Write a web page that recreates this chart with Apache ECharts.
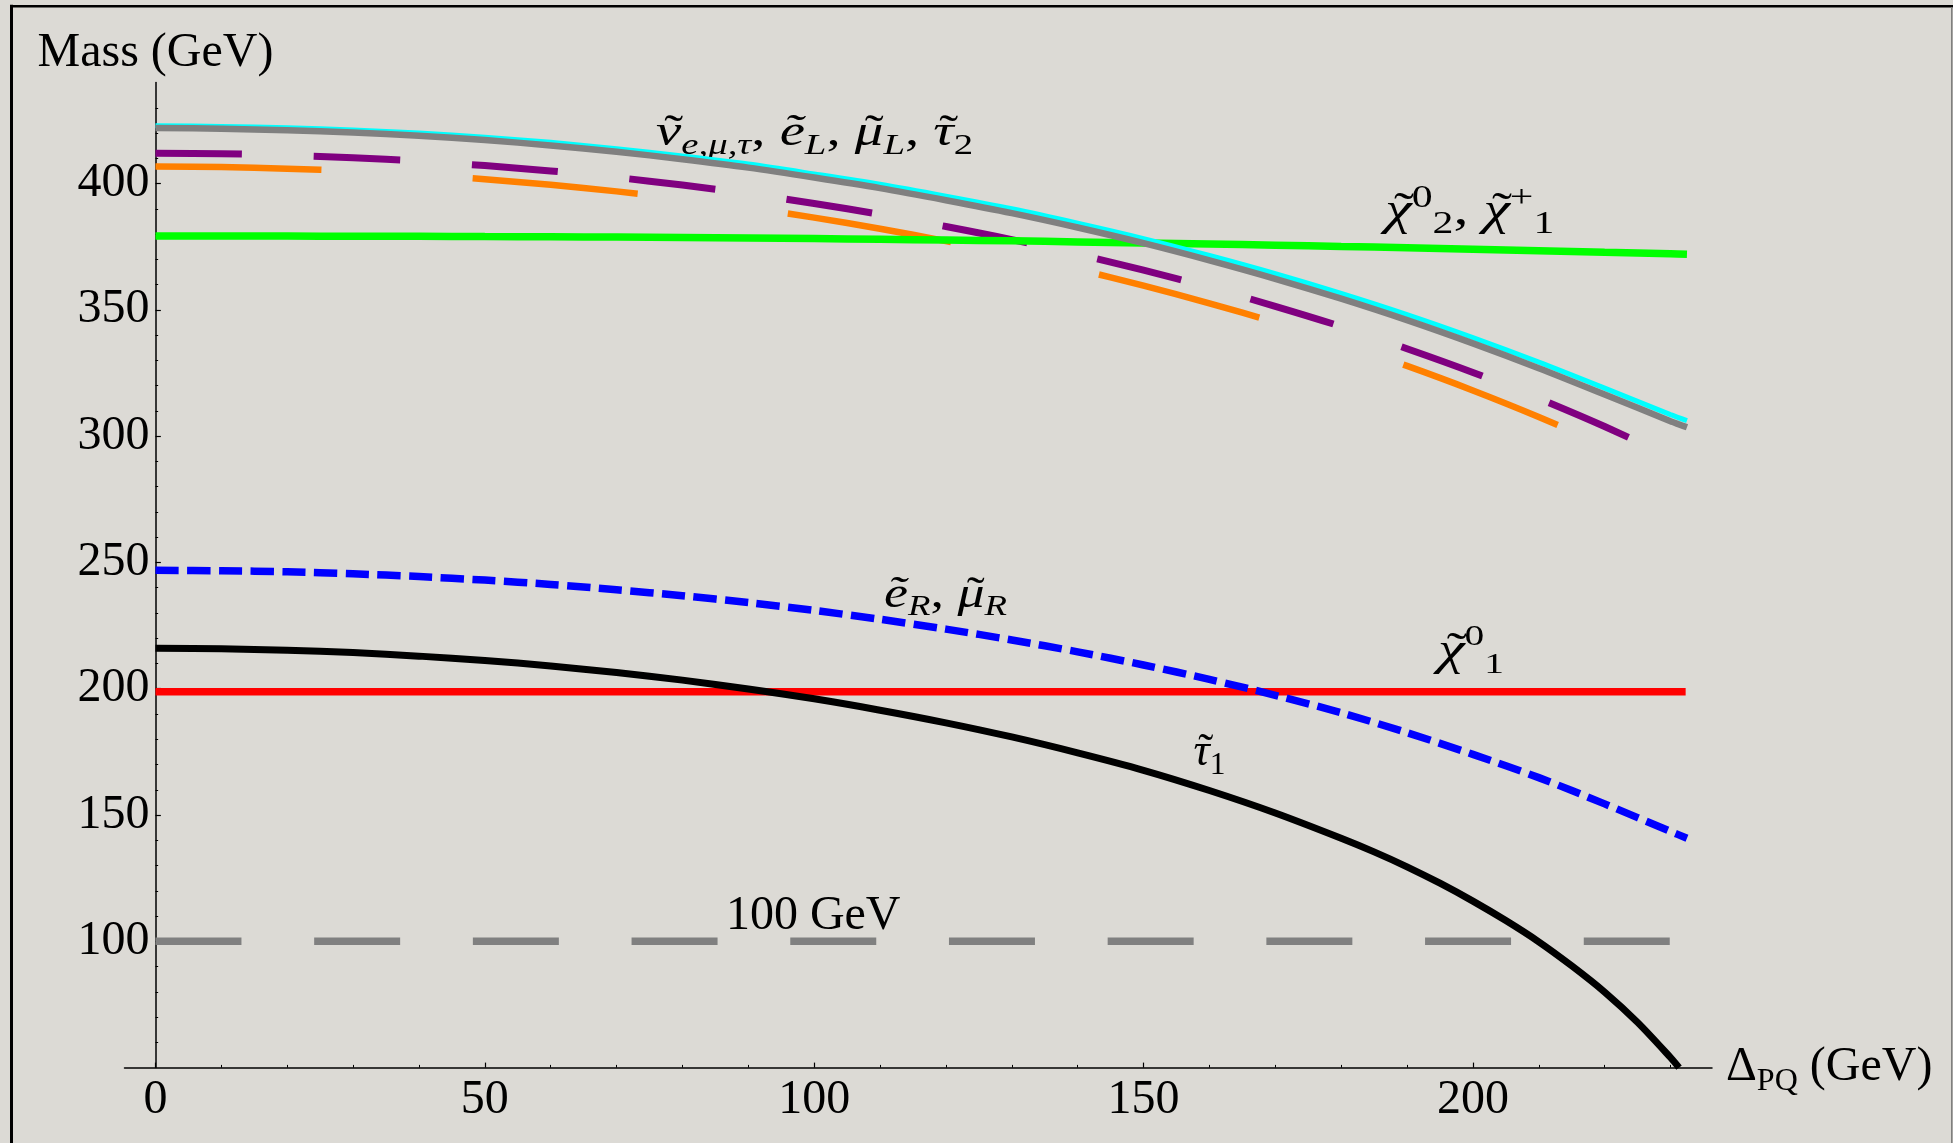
<!DOCTYPE html>
<html>
<head>
<meta charset="utf-8">
<style>
html,body{margin:0;padding:0;background:#dcdad5;}
#chart{width:1953px;height:1143px;}
</style>
<script src="https://cdn.jsdelivr.net/npm/echarts@6/dist/echarts.min.js"></script>
</head>
<body>
<div id="chart"></div>
<script>
// ---------------- data ----------------
const xTickValues = [0, 50, 100, 150, 200];
const xMinorTickValues = [10,20,30,40,60,70,80,90,110,120,130,140,160,170,180,190,210,220,230];
const yTickValues = [100, 150, 200, 250, 300, 350, 400];
const yMinorTickValues = [60,70,80,90,110,120,130,140,160,170,180,190,210,220,230,240,260,270,280,290,310,320,330,340,360,370,380,390,410,420,430];

const deltaPQ = [0,10,20,30,40,50,60,70,80,90,100,110,120,130,140,150,160,170,180,190,200,210,220,230,232.5];
const mSlepL  = [422.0,421.7,421.1,420.2,418.9,417.2,415.1,412.6,409.6,406.3,402.4,398.2,393.4,388.3,382.6,376.4,369.6,362.3,354.4,345.9,336.7,326.9,316.5,305.9,303.5];
const mSnu    = [422.9,422.6,422.1,421.2,420.0,418.3,416.3,413.8,410.9,407.7,403.8,399.7,395.0,390.0,384.3,378.2,371.5,364.3,356.5,348.1,339.0,329.3,319.0,308.5,306.1];
const mPurple = [412.0,411.8,411.2,410.2,408.9,407.1,405.0,402.4,399.4,396.0,392.1,387.8,383.0,377.8,372.0,365.7,358.9,351.4,343.4,334.6,325.2,314.9,303.8,291.7,288.5];
const mOrange = [406.7,406.5,405.9,404.9,403.5,401.7,399.5,396.9,393.9,390.4,386.5,382.1,377.2,371.9,366.0,359.6,352.6,345.0,336.8,327.8,318.1,307.6,296.2,283.7,280.4];
const mChi2   = [379.2,379.2,379.2,379.1,379.1,379.0,378.9,378.8,378.6,378.4,378.2,377.9,377.6,377.3,376.9,376.5,376.1,375.6,375.1,374.6,374.0,373.4,372.8,372.2,372.0];
const mSlepR  = [246.9,246.7,246.3,245.5,244.4,243.0,241.3,239.2,236.8,234.1,231.0,227.5,223.6,219.3,214.6,209.4,203.7,197.4,190.5,182.6,174.0,164.8,154.4,143.5,140.8];

const deltaStau = [0,10,20,30,40,50,60,70,80,90,100,110,120,130,140,150,160,170,180,185,190,195,200,205,210,215,220,225,230,231.3];
const mStau1    = [216.0,215.8,215.2,214.3,212.9,211.2,209.0,206.4,203.4,199.9,196.0,191.5,186.5,180.9,174.6,167.7,159.7,150.8,140.8,135.4,129.5,123.0,115.9,108.2,99.8,90.3,79.9,67.9,54.0,50.0];

const deltaChi1 = [0, 232.3];
const mChi1     = [198.8, 198.8];
const deltaRef  = [0, 232.5];
const mRef      = [100, 100];

// curve labels: baseline anchored in data coordinates; tokens: m=italic, u=upright, sb/sbu=subscript, sp=superscript
const curveLabels = [
  {x:76.0,  y:414.0, main:44, sub:30, drop:9, rise:14, width:317, tokens:[
    {t:'ν', s:'m', tilde:true}, {t:'e,μ,τ', s:'sb'}, {t:', ', s:'u'}, {t:'ẽ', s:'m'}, {t:'L', s:'sb'},
    {t:', ', s:'u'}, {t:'μ', s:'m', tilde:true}, {t:'L', s:'sb'}, {t:', ', s:'u'}, {t:'τ', s:'m', tilde:true}, {t:'2', s:'sbu'}]},
  {x:186.7, y:382.8, main:46, sub:32, drop:11, rise:15, width:169, tokens:[
    {t:'χ', s:'m', tilde:true}, {t:'0', s:'sp'}, {t:'2', s:'sbu'}, {t:', ', s:'u'},
    {t:'χ', s:'m', tilde:true}, {t:'+', s:'sp'}, {t:'1', s:'sbu'}]},
  {x:110.6, y:231.2, main:44, sub:30, drop:4, rise:14, width:123, tokens:[
    {t:'ẽ', s:'m'}, {t:'R', s:'sb'}, {t:', ', s:'u'}, {t:'μ', s:'m', tilde:true}, {t:'R', s:'sb'}]},
  {x:194.7, y:208.6, main:46, sub:30, drop:10, rise:18, width:66, tokens:[
    {t:'χ', s:'m', tilde:true}, {t:'0', s:'sp'}, {t:'1', s:'sbu'}]},
  {x:157.6, y:168.6, main:46, sub:32, drop:9, rise:14, width:32, tokens:[
    {t:'τ', s:'m', tilde:true}, {t:'1', s:'sbu'}]},
  {x:86.6,  y:103.3, main:48, sub:32, drop:9, rise:14, width:0, tokens:[
    {t:'100 GeV', s:'u'}]}
];

// ---------------- chart ----------------
const FONT = '"Liberation Serif","Times New Roman",Times,serif';
function pairs(xs, ys){ return xs.map((x,i)=>[x, ys[i]]); }

const chart = echarts.init(document.getElementById('chart'), null, {renderer:'canvas'});

function lineSeries(xs, ys, color, width, type, extra){
  return Object.assign({
    type:'line', xAxisIndex:0, yAxisIndex:0,
    data: pairs(xs, ys), showSymbol:false, symbol:'none', smooth:0.3,
    silent:true, animation:false,
    lineStyle:{color:color, width:width, type:type || 'solid', cap:'butt'}
  }, extra || {});
}

const gridBox = {left:124.5, right:241, top:82.5, bottom:75.4, containLabel:false, outerBoundsMode:'none'};

const option = {
  backgroundColor:'#dcdad5',
  animation:false,
  grid:[Object.assign({}, gridBox), Object.assign({}, gridBox)],
  xAxis:[{
    type:'value', gridIndex:0, min:-4.7, max:236.3,
    axisLine:{show:true, onZero:false, lineStyle:{color:'#000', width:1.5}},
    axisTick:{show:true, inside:true, length:5, customValues:xTickValues, lineStyle:{color:'#000', width:1.2}},
    axisLabel:{show:true, customValues:xTickValues, margin:9, color:'#000', fontSize:48, fontFamily:FONT},
    splitLine:{show:false},
    name:'{d|Δ}{s|PQ}{d| (GeV)}', nameLocation:'end', nameGap:14,
    nameTextStyle:{color:'#000', fontFamily:FONT, fontSize:48,
      rich:{d:{fontSize:48, fontFamily:FONT, color:'#000', lineHeight:60, verticalAlign:'middle'},
            s:{fontSize:32, fontFamily:FONT, color:'#000', lineHeight:36, verticalAlign:'bottom'}}}
  },{
    type:'value', gridIndex:1, min:-4.7, max:236.3,
    axisLine:{show:false, onZero:false},
    axisTick:{show:true, inside:true, length:2.7, customValues:xMinorTickValues, lineStyle:{color:'#000', width:1}},
    axisLabel:{show:false}, splitLine:{show:false}
  }],
  yAxis:[{
    type:'value', gridIndex:0, min:50, max:440,
    axisLine:{show:true, onZero:true, lineStyle:{color:'#000', width:1.5}},
    axisTick:{show:true, inside:true, length:5.4, customValues:yTickValues, lineStyle:{color:'#000', width:1.2}},
    axisLabel:{show:true, customValues:yTickValues, margin:-25, color:'#000', fontSize:48, fontFamily:FONT},
    splitLine:{show:false},
    name:'Mass (GeV)', nameLocation:'end', nameGap:5,
    nameTextStyle:{color:'#000', fontFamily:FONT, fontSize:48, align:'center'}
  },{
    type:'value', gridIndex:1, min:50, max:440,
    axisLine:{show:false, onZero:true},
    axisTick:{show:true, inside:true, length:2.7, customValues:yMinorTickValues, lineStyle:{color:'#000', width:1}},
    axisLabel:{show:false}, splitLine:{show:false}
  }],
  series:[
    lineSeries(deltaChi1, mChi1, '#ff0000', 7.5, 'solid', {smooth:false}),
    lineSeries(deltaRef, mRef, '#808080', 7.5, [86, 72.7], {smooth:false}),
    lineSeries(deltaStau, mStau1, '#000000', 7, 'solid'),
    lineSeries(deltaPQ, mSlepR, '#0000ff', 7.5, [23.3, 8.4]),
    lineSeries(deltaPQ, mOrange, '#ff8000', 6.5, [166, 151.3]),
    lineSeries(deltaPQ, mPurple, '#800080', 7, [86.5, 71.8]),
    lineSeries(deltaPQ, mChi2, '#00ff00', 7.5, 'solid'),
    lineSeries(deltaPQ, mSnu, '#00ffff', 5, 'solid'),
    lineSeries(deltaPQ, mSlepL, '#808080', 6.5, 'solid')
  ]
};
chart.setOption(option);

// ---------------- curve labels ----------------
const mctx = document.createElement('canvas').getContext('2d');
const MID = 0.3375; // alphabetic baseline below the 'middle' line, in em

function buildLabel(l){
  const M = l.main, S = l.sub, LH = Math.round(M * 1.25);
  const Ls = 2 * (LH / 2 - MID * (M - S) - l.drop);
  const Lp = 2 * (LH / 2 + MID * (M - S) - l.rise);
  const styles = {
    m:  {fontSize:M, fontStyle:'italic', lineHeight:LH, verticalAlign:'middle'},
    u:  {fontSize:M, fontStyle:'normal', lineHeight:LH, verticalAlign:'middle'},
    sb: {fontSize:S, fontStyle:'italic', lineHeight:Ls, verticalAlign:'bottom'},
    sbu:{fontSize:S, fontStyle:'normal', lineHeight:Ls, verticalAlign:'bottom'},
    sp: {fontSize:S, fontStyle:'normal', lineHeight:Lp, verticalAlign:'top'}
  };
  const rich = {};
  Object.keys(styles).forEach(k => {
    rich[k] = Object.assign({fontFamily:FONT, fill:'#000', color:'#000'}, styles[k]);
  });
  let text = '', x = 0;
  const tildes = [];
  l.tokens.forEach(tk => {
    const st = styles[tk.s];
    mctx.font = st.fontStyle + ' ' + st.fontSize + 'px ' + FONT;
    const w = mctx.measureText(tk.t).width;
    if (tk.tilde) tildes.push(x + w / 2 + 0.09 * st.fontSize);
    text += '{' + tk.s + '|' + tk.t + '}';
    x += w;
  });
  const sx = l.width > 0 ? l.width / x : 1;
  const p = chart.convertToPixel({xAxisIndex:0, yAxisIndex:0}, [l.x, l.y]);
  const children = [{type:'text', x:0, y:0, silent:true,
    style:{text:text, rich:rich, align:'left', verticalAlign:'middle', fontSize:M, fontFamily:FONT, fill:'#000'}}];
  tildes.forEach(tx => children.push({type:'text', x:tx, y:0, silent:true,
    style:{text:'˜', align:'center', verticalAlign:'middle', fontSize:M, lineHeight:LH, fontFamily:FONT, fill:'#000'}}));
  return {type:'group', x:p[0], y:p[1] - MID * M, scaleX:sx, z:100, silent:true, children:children};
}

const frame = [
  {type:'line', silent:true, z:100, shape:{x1:11.5, y1:4.8, x2:11.5, y2:1143}, style:{stroke:'#000', lineWidth:3}},
  {type:'line', silent:true, z:100, shape:{x1:10, y1:6.2, x2:1953, y2:6.2}, style:{stroke:'#000', lineWidth:2.6}},
  {type:'line', silent:true, z:100, shape:{x1:1951.8, y1:7, x2:1951.8, y2:1143}, style:{stroke:'#7a7a7a', lineWidth:1.5}}
];

chart.setOption({graphic: frame.concat(curveLabels.map(buildLabel))});
</script>
</body>
</html>
